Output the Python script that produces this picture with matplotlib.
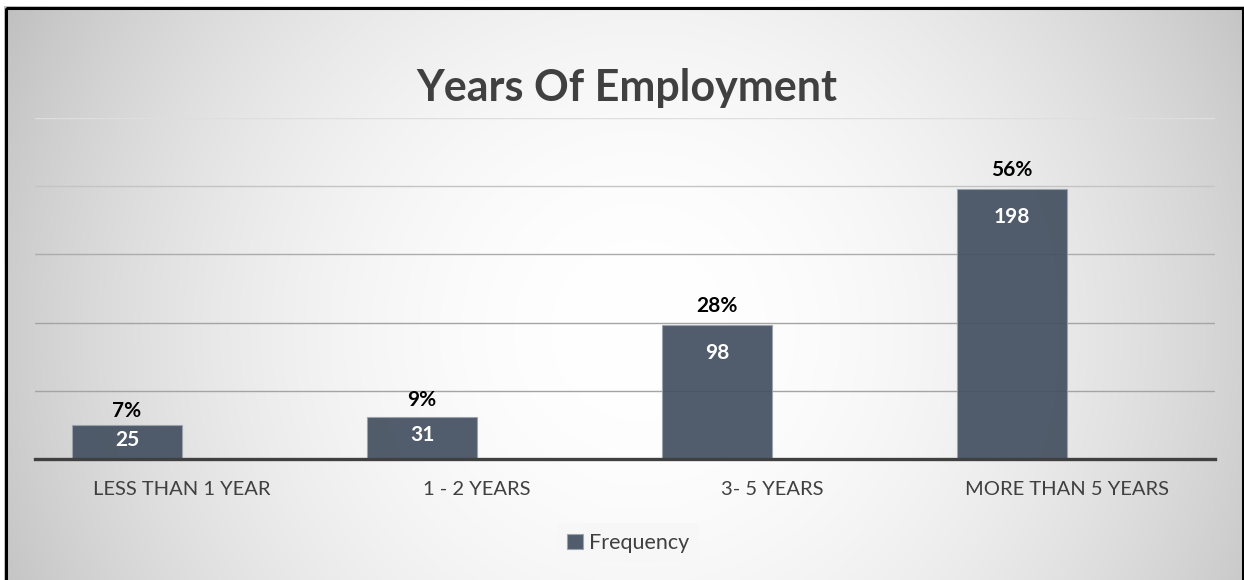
import numpy as np
import matplotlib
matplotlib.use("Agg")
import matplotlib.pyplot as plt
from matplotlib.patches import Rectangle

# data
categories = ["LESS THAN 1 YEAR", "1 - 2 YEARS", "3- 5 YEARS", "MORE THAN 5 YEARS"]
frequency = [25, 31, 98, 198]
percent_labels = ["7%", "9%", "28%", "56%"]
series_name = "Frequency"

W, H = 1244, 580
plt.rcParams['font.family'] = ['Lato', 'DejaVu Sans']

fig = plt.figure(figsize=(W / 100, H / 100), dpi=100)
fig.patch.set_facecolor("white")

# radial grey background
bg = fig.add_axes([0, 0, 1, 1], zorder=-5)
yy, xx = np.mgrid[0:H, 0:W]
r = np.hypot(xx - 640, yy - 330) / 620.0
shade = np.clip(255 - 48 * r ** 2, 0, 255) / 255.0
img = np.dstack([shade, shade, shade])
img[:6, :, :] = 1.0
img[:, :4, :] = 1.0
bg.imshow(img, extent=[0, W, H, 0], aspect="auto", interpolation="bilinear")
bg.set_xlim(0, W)
bg.set_ylim(H, 0)
bg.axis("off")
bg.add_patch(Rectangle((5.5, 7.5), 1237, 580, fill=False, edgecolor="black", linewidth=2.2))

# plot area
ax = fig.add_axes([34.5 / W, 121 / H, 1180 / W, 341 / H])
ax.patch.set_alpha(0)
x = np.arange(len(categories))
# bar sits in the left half of each category slot (second cluster slot empty)
bars = ax.bar(x, frequency, width=-0.373, align="edge", color="#445061", alpha=0.93,
              edgecolor="#9aa3ae", linewidth=0.8, zorder=3, label=series_name)
ax.set_xlim(-0.5, len(categories) - 0.5)
ax.set_ylim(0, 250)
ax.set_yticks([50, 100, 150, 200, 250])
ax.yaxis.grid(True, zorder=0)
grid_colors = ["#a4a4a4", "#a4a4a4", "#acacac", "#c4c4c4", "#dedede"]
for gl, c in zip(ax.get_ygridlines(), grid_colors):
    gl.set_color(c)
    gl.set_linewidth(1.0)
ax.set_yticklabels([])
ax.tick_params(axis="y", length=0)
for s in ["top", "right", "left"]:
    ax.spines[s].set_visible(False)
ax.spines["bottom"].set_color("#404040")
ax.spines["bottom"].set_linewidth(2.4)
ax.spines["bottom"].set_zorder(4)
ax.set_xticks(x)
ax.set_xticklabels(categories, fontsize=14.5, color="#404040")
ax.tick_params(axis="x", length=0, pad=16)

px = 72 / 100.0
for b, v, p in zip(bars, frequency, percent_labels):
    cx = b.get_x() + b.get_width() / 2
    hpx = v * 341 / 250
    inside = min(28, hpx / 2.3)
    above = min(19, hpx / 2.5)
    ax.annotate(str(v), (cx, v), xytext=(0, -inside * px), textcoords="offset points",
                ha="center", va="center", fontsize=15, fontweight="bold", color="white", zorder=5)
    ax.annotate(p, (cx, v), xytext=(0, above * px), textcoords="offset points",
                ha="center", va="center", fontsize=15, fontweight="bold", color="black", zorder=5)

fig.text(627 / W, (H - 101) / H, "Years Of Employment", ha="center", va="baseline",
         fontsize=31, fontweight="bold", color="#404040")

leg = fig.legend(handles=[bars], labels=[series_name], loc="center",
                 bbox_to_anchor=(628 / W, (H - 543) / H), frameon=True, fontsize=15.5,
                 handlelength=0.75, handleheight=0.75, handletextpad=0.3, borderpad=0.45)
leg.get_frame().set_facecolor("#f7f7f7")
leg.get_frame().set_edgecolor("none")
leg.get_frame().set_alpha(0.8)
for t in leg.get_texts():
    t.set_color("#404040")

fig.savefig("out.png", dpi=100)
